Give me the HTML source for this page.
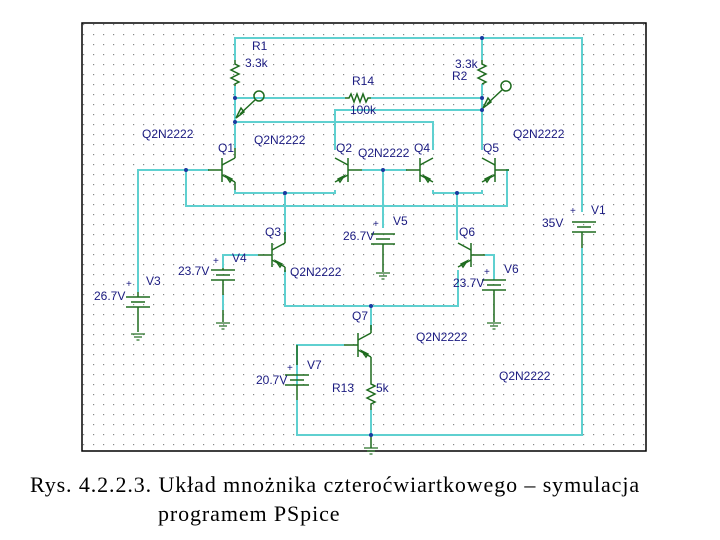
<!DOCTYPE html>
<html><head><meta charset="utf-8"><style>
body{margin:0;background:#fff;width:720px;height:540px;overflow:hidden}
svg{position:absolute;left:0;top:0}
.cap{position:absolute;font-family:"Liberation Serif",serif;font-size:22px;letter-spacing:0.9px;color:#000;left:0;width:720px;white-space:nowrap}
</style></head><body>
<svg width="720" height="540" viewBox="0 0 720 540" font-family="Liberation Sans, sans-serif" font-size="12">
<defs>
<pattern id="g" x="3" y="4" width="10" height="10" patternUnits="userSpaceOnUse"><rect x="0" y="0" width="1.2" height="1.2" fill="#888"/></pattern>
<g id="npn" stroke="#1e6b1e" stroke-width="1.5" fill="none">
<line x1="0" y1="-12" x2="0" y2="12"/><line x1="-14" y1="0" x2="0" y2="0"/>
<line x1="0" y1="-5" x2="13" y2="-12"/><line x1="0" y1="5" x2="13" y2="12"/>
<path d="M4,6 L10,9 L8,12 Z"/>
</g>
<g id="bat" stroke="#1e6b1e" stroke-width="1.5"><line x1="-12" y1="0" x2="12" y2="0"/><line x1="-7" y1="5" x2="7" y2="5"/><line x1="-12" y1="10" x2="12" y2="10"/></g>
<g id="gnd" stroke="#1e6b1e" stroke-width="1.2"><line x1="-7" y1="0" x2="7" y2="0"/><line x1="-4" y1="3" x2="4" y2="3"/><line x1="-1.5" y1="6" x2="1.5" y2="6"/></g>
</defs>
<rect x="82" y="23" width="564" height="428" fill="url(#g)" stroke="#000" stroke-width="1.5"/>
<g stroke="#5fd0d0" stroke-width="2" fill="none">
<polyline points="235,60 235,38 582,38 582,212"/>
<polyline points="582,248 582,435 297,435 297,400"/>
<line x1="235" y1="86" x2="235" y2="148"/>
<line x1="235" y1="98" x2="345" y2="98"/><line x1="371" y1="98" x2="482" y2="98"/>
<polyline points="235,122 433,122 433,150"/>
<polyline points="335,150 335,110 482,110"/>
<line x1="482" y1="38" x2="482" y2="60"/><line x1="482" y1="84" x2="482" y2="150"/>
<polyline points="209,170 138,170 138,292"/>
<polyline points="186,170 186,206 507,206 507,170 509,170"/>
<line x1="362" y1="170" x2="407" y2="170"/>
<line x1="383" y1="170" x2="383" y2="228"/>
<polyline points="235,190 235,193 335,193 335,190"/>
<polyline points="433,190 433,193 482,193 482,190"/>
<line x1="285" y1="193" x2="285" y2="240"/>
<line x1="457" y1="193" x2="457" y2="240"/>
<polyline points="258,255 223,255 223,268"/>
<polyline points="485,255 494,255 494,280"/>
<polyline points="285,270 285,306 458,306 458,270"/>
<line x1="371" y1="306" x2="371" y2="330"/>
<polyline points="344,345 297,345 297,385"/>
<line x1="371" y1="410" x2="371" y2="435"/>
<line x1="223" y1="295" x2="223" y2="310"/>
</g>
<g stroke="#1e6b1e" stroke-width="1.5" fill="none">
<polyline points="235,60 235,64 239,66 231,70 239,74 231,78 239,82 235,84 235,86"/>
<polyline points="482,60 482,64 486,66 478,70 486,74 478,78 486,82 482,84"/>
<polyline points="345,98 349,98 351,94 354,102 357,94 360,102 363,94 366,102 368,98 371,98"/>
<polyline points="371,380 371,384 375,386 367,390 375,394 367,398 375,402 371,404 371,410"/>
<line x1="138" y1="292" x2="138" y2="297"/><line x1="138" y1="307" x2="138" y2="332"/>
<line x1="223" y1="268" x2="223" y2="270"/><line x1="223" y1="280" x2="223" y2="295"/><line x1="223" y1="310" x2="223" y2="322"/>
<line x1="383" y1="244" x2="383" y2="272"/>
<line x1="494" y1="290" x2="494" y2="322"/>
<line x1="582" y1="232" x2="582" y2="248"/>
<line x1="297" y1="345" x2="297" y2="365"/><line x1="297" y1="385" x2="297" y2="400"/>
<line x1="371" y1="357" x2="371" y2="380"/>
<line x1="235" y1="148" x2="235" y2="158"/><line x1="235" y1="182" x2="235" y2="190"/>
<line x1="285" y1="232" x2="285" y2="243"/><line x1="285" y1="267" x2="285" y2="272"/>
<line x1="371" y1="325" x2="371" y2="333"/>
<circle cx="259" cy="96" r="5"/><line x1="255" y1="100" x2="240" y2="114"/><path d="M236,118 L244,112 L241,108 Z"/>
<circle cx="506" cy="86" r="5"/><line x1="502" y1="90" x2="487" y2="104"/><path d="M483,108 L491,102 L488,98 Z"/>
</g>
<use href="#npn" x="222" y="170"/>
<use href="#npn" transform="translate(348,170) scale(-1,1)"/>
<use href="#npn" x="420" y="170"/>
<use href="#npn" transform="translate(495,170) scale(-1,1)"/>
<use href="#npn" x="272" y="255"/>
<use href="#npn" transform="translate(471,255) scale(-1,1)"/>
<use href="#npn" x="358" y="345"/>
<use href="#bat" x="138" y="297"/><use href="#bat" x="223" y="270"/><use href="#bat" x="383" y="234"/>
<use href="#bat" x="494" y="280"/><use href="#bat" x="584" y="222"/><use href="#bat" x="297" y="375"/>
<use href="#gnd" x="138" y="334"/><use href="#gnd" x="223" y="323"/><use href="#gnd" x="383" y="273"/>
<use href="#gnd" x="494" y="323"/><use href="#gnd" x="371" y="448"/>
<line x1="371" y1="435" x2="371" y2="448" stroke="#1e6b1e" stroke-width="1.5"/>
<g fill="#1a3aa0">
<circle cx="235" cy="98" r="2"/><circle cx="235" cy="122" r="2"/><circle cx="482" cy="38" r="2"/><circle cx="482" cy="98" r="2"/><circle cx="482" cy="110" r="2"/>
<circle cx="186" cy="170" r="2"/><circle cx="383" cy="170" r="2"/><circle cx="285" cy="193" r="2"/><circle cx="457" cy="193" r="2"/><circle cx="371" cy="306" r="2"/><circle cx="371" cy="435" r="2"/>
</g>
<g fill="#1a1a80">
<text x="252" y="50">R1</text><text x="245" y="67">3.3k</text>
<text x="455" y="68">3.3k</text><text x="452" y="80">R2</text>
<text x="352" y="85">R14</text><text x="350" y="114">100k</text>
<text x="142" y="138">Q2N2222</text><text x="218" y="152">Q1</text><text x="254" y="144">Q2N2222</text>
<text x="336" y="152">Q2</text><text x="358" y="157">Q2N2222</text><text x="414" y="152">Q4</text>
<text x="483" y="152">Q5</text><text x="513" y="138">Q2N2222</text>
<text x="265" y="236">Q3</text><text x="343" y="240">26.7V</text><text x="393" y="225">V5</text><text x="373" y="227" font-size="10">+</text>
<text x="542" y="227">35V</text><text x="591" y="214">V1</text><text x="570" y="214" font-size="10">+</text>
<text x="459" y="236">Q6</text>
<text x="178" y="275">23.7V</text><text x="232" y="262">V4</text><text x="213" y="264" font-size="10">+</text>
<text x="290" y="276">Q2N2222</text>
<text x="453" y="287">23.7V</text><text x="504" y="273">V6</text><text x="484" y="275" font-size="10">+</text>
<text x="94" y="300">26.7V</text><text x="146" y="285">V3</text><text x="126" y="287" font-size="10">+</text>
<text x="352" y="320">Q7</text><text x="416" y="341">Q2N2222</text>
<text x="256" y="384">20.7V</text><text x="307" y="369">V7</text><text x="287" y="371" font-size="10">+</text>
<text x="332" y="392">R13</text><text x="376" y="392">5k</text>
<text x="499" y="380">Q2N2222</text>
</g>
</svg>
<div class="cap" style="top:472px;padding-left:30px">Rys. 4.2.2.3. Układ mnożnika czteroćwiartkowego – symulacja</div>
<div class="cap" style="top:501px;padding-left:158px">programem PSpice</div>
</body></html>
